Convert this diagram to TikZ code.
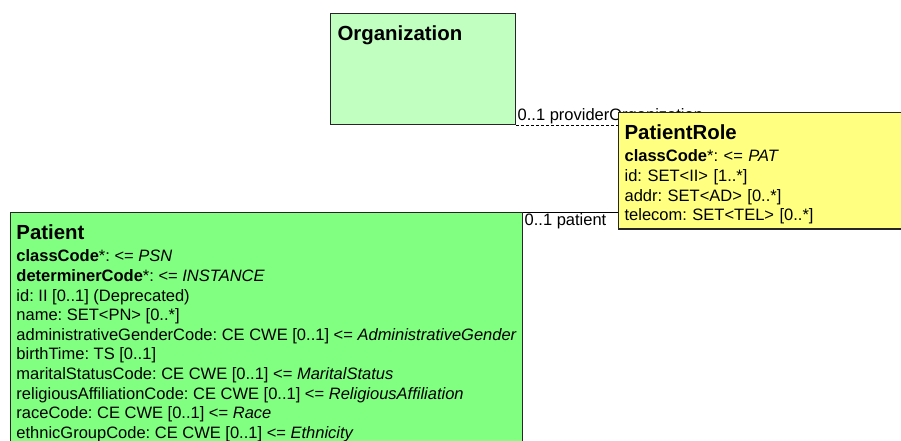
\documentclass[tikz,border=0pt]{standalone}
\usepackage{fontspec}
\setmainfont{Liberation Sans}
\usetikzlibrary{backgrounds}

\definecolor{orggreen}{RGB}{192,255,192}
\definecolor{patgreen}{RGB}{128,255,128}
\definecolor{roleyellow}{RGB}{255,255,128}

\tikzset{
  classbox/.style={draw=black!85, line width=1.2pt, anchor=north west, align=left,
    inner xsep=7pt, inner ysep=5pt, font=\fontsize{16.5}{19.6}\selectfont\frenchspacing},
  assoc/.style={black, line width=1pt},
  rolename/.style={font=\fontsize{16.5}{19.6}\selectfont, inner sep=1pt}
}
\newcommand{\clsname}[1]{{\fontsize{20.4}{24}\selectfont\bfseries\rule{0pt}{22pt}#1}}

\begin{document}
\begin{tikzpicture}[x=1pt, y=-1pt]
            \clip (0,0) rectangle (901,441);

            \node[classbox, fill=orggreen, text width=171pt, text depth=79pt] (org) at (330,13) {\clsname{Organization}};
            \node[classbox, fill=roleyellow, text width=276pt, inner xsep=6pt] (role) at (618,112) {\clsname{PatientRole}\\[2.6pt]
              \textbf{classCode}*: <= \textit{PAT}\\
              id: SET<II> [1..*]\\
              addr: SET<AD> [0..*]\\
              telecom: SET<TEL> [0..*]};
            \node[classbox, fill=patgreen, minimum width=512pt, inner xsep=5.5pt] (pat) at (10,212) {\clsname{Patient}\\[2.6pt]
              \textbf{classCode}*: <= \textit{PSN}\\
              \textbf{determinerCode}*: <= \textit{INSTANCE}\\
              id: II [0..1] (Deprecated)\\
              name: SET<PN> [0..*]\\
              administrativeGenderCode: CE CWE [0..1] <= \textit{AdministrativeGender}\\
              birthTime: TS [0..1]\\
              maritalStatusCode: CE CWE [0..1] <= \textit{MaritalStatus}\\
              religiousAffiliationCode: CE CWE [0..1] <= \textit{ReligiousAffiliation}\\
              raceCode: CE CWE [0..1] <= \textit{Race}\\
              ethnicGroupCode: CE CWE [0..1] <= \textit{Ethnicity}\\
              \rule{0pt}{30pt}};

            \begin{scope}[on background layer]
            \draw[assoc, dash pattern=on 3pt off 2pt] (org.south east) -- (org.south east -| role.west)
              node[rolename, pos=0, anchor=south west] (provlbl) {0..1 providerOrganization};
            \draw[assoc] (pat.north east) -- (pat.north east -| role.west)
              node[rolename, pos=0, anchor=north west] (patlbl) {0..1 patient};
            \end{scope}
        \end{tikzpicture}
\end{document}
